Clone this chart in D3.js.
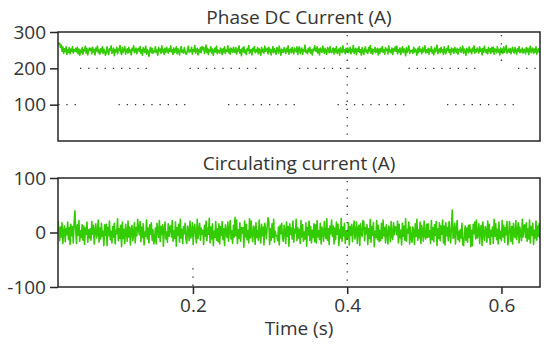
<!DOCTYPE html>
<html>
<head>
<meta charset="utf-8">
<script src="https://cdn.jsdelivr.net/npm/d3@7.9.0/dist/d3.min.js"></script>
<style>
  body { margin: 0; background: #fff; }
  svg { display: block; font-family: 'Open Sans', sans-serif; }
</style>
</head>
<body>
<div id="chart"></div>
<script>
// time window of the record (s)
const tStart = 0.025;
const tEnd = 0.65;
const xTicks = [0.2, 0.4, 0.6];
const dcTicks = [100, 200, 300];
const circTicks = [-100, 0, 100];

// Phase DC current samples (A), evenly spaced over the window
const dcCurrent = [
  272,266,269,258,264,247,259,241,254,246,259,238,251,244,257,240,253,247,260,242,
  252,247,255,245,258,240,253,236,250,244,257,239,252,248,261,242,255,237,249,256,
  249,255,240,258,245,252,237,256,248,261,243,250,239,254,246,259,241,253,247,236,
  243,259,246,238,254,250,262,241,247,256,235,251,245,258,240,253,249,263,244,238,
  257,244,251,260,239,248,254,242,258,245,250,237,255,249,262,243,247,256,240,252,
  255,247,260,242,251,236,257,249,244,261,239,252,246,233,250,258,243,255,241,248,
  246,259,243,250,236,257,248,253,241,262,245,251,238,255,244,258,249,242,254,247,
  262,245,251,238,256,243,249,259,240,254,247,237,253,260,244,250,242,257,246,239,
  240,253,261,244,250,246,258,239,252,247,263,242,249,255,237,251,245,257,243,260,
  252,258,241,249,264,243,255,238,251,247,259,242,253,236,248,256,245,261,240,250,
  248,242,256,251,238,254,245,259,241,250,247,262,243,253,239,256,249,244,258,246,
  244,257,239,253,248,262,242,251,235,256,246,259,243,250,238,254,249,263,241,247,
  252,237,255,248,260,243,251,246,257,240,254,249,236,258,245,252,242,261,247,250,
  255,240,258,245,252,237,249,260,243,254,246,239,257,251,242,261,248,236,253,245,
  244,257,249,241,255,246,262,239,251,253,243,258,247,240,256,250,245,259,238,254,
  259,241,250,256,238,252,247,264,244,249,240,255,246,258,242,251,237,253,248,262,
  251,246,259,242,253,237,256,248,244,261,250,241,255,247,239,257,252,243,260,245,
  243,250,256,239,254,245,260,241,248,253,236,257,249,243,262,246,251,240,255,247,
  256,243,250,258,240,252,246,263,241,249,255,238,253,247,259,244,251,236,257,248,
  238,252,259,244,250,241,257,248,263,242,254,239,251,246,258,243,249,255,237,253,
  242,255,247,260,244,251,239,257,249,253,240,262,246,250,243,256,238,254,248,259,
  247,261,240,252,245,256,238,250,259,243,254,248,235,257,244,251,262,241,249,246,
  250,241,258,245,253,248,236,255,243,260,247,252,240,257,245,249,262,242,251,244,
  255,239,253,247,260,242,250,237,256,245,252,264,240,248,254,243,258,246,251,238,
  259,247,240,254,249,262,244,251,238,256,246,253,241,258,250,243,255,239,252,248,
  257,244,249,261,241,253,247,236,255,250,243,259,245,252,240,256,248,262,242,251,
  245,256,250,242,259,247,253,237,255,244,261,249,243,252,240,257,246,254,241,258,
  246,258,239,254,249,243,260,245,251,237,256,248,253,241,259,244,250,263,242,247,
  253,244,255,240,250,258,246,242,257,249,239,254,247,260,243,251,245,256,242,250,
  252,240,257,246,255,238,251,261,243,249,256,241,253,245,259,239,250,254,244,248
];

// Circulating current samples (A)
const circCurrent = [
  22,5,-15,10,-8,18,-20,3,12,-17,7,-4,19,-13,9,-22,15,-6,11,-19,
  18,40,6,-20,14,-5,22,-16,3,-9,14,-14,12,-22,8,-3,19,-18,5,-10,
  7,-14,20,-3,13,-21,4,16,-10,-2,23,-18,8,-12,17,-7,2,-24,14,-5,
  15,-24,9,-6,21,-13,2,-19,11,-8,17,-21,4,-2,25,-15,7,-11,13,-26,
  19,-11,6,-20,15,2,-16,21,-8,10,-23,5,13,-15,-1,18,-19,9,-6,24,
  6,-4,20,-17,10,-9,16,-23,1,-7,23,-12,8,-19,14,-3,18,-14,5,-21,
  -13,8,-21,17,3,-9,22,-17,11,-4,14,-25,6,19,-12,1,-18,16,-7,10,
  12,-8,22,-16,3,-11,19,-25,9,-5,15,-18,24,-10,6,-20,11,-2,17,-13,
  -20,12,5,-15,21,-10,-2,18,-22,9,15,-6,-19,24,-11,4,17,-14,8,-3,
  4,-22,13,-7,21,-15,8,-3,26,-19,10,-12,16,-24,2,-9,20,-14,7,-17,
  16,-21,11,-5,20,-13,7,-24,14,1,-9,19,-16,6,22,-12,3,-20,13,-8,
  28,-6,23,-20,5,-11,18,-16,9,-1,9,-27,21,-8,15,-13,3,-19,25,-10,
  21,-4,-17,12,8,-22,18,-9,4,-14,23,-2,-19,15,-6,10,-23,17,5,-11,
  11,27,19,-22,7,-14,16,-9,24,-18,2,-6,-6,-15,10,-23,13,-2,17,-11,
  -16,13,2,-20,19,-7,11,-25,16,-3,8,-12,21,-18,6,-1,24,-15,9,-10,
  6,-20,22,-8,14,-16,1,-12,18,-25,9,-5,21,-14,11,-19,4,-9,16,-17,
  14,-19,22,-8,3,-13,17,-21,10,5,-16,20,-4,-11,25,-14,7,-22,12,-2,
  23,-7,12,-21,8,-13,19,-3,15,-24,5,-10,26,-16,10,-6,17,-20,3,-12,
  -9,18,-23,11,-5,15,-17,6,21,-12,-1,19,-20,8,13,-24,16,-3,-7,22,
  20,-15,9,-2,14,-22,7,-11,24,-18,11,-5,18,-26,2,-9,22,-13,13,-17,
  4,-15,17,-11,23,-6,9,-19,14,-2,-21,12,7,-17,20,-8,-13,18,-4,11,
  8,-4,21,-19,15,-10,4,-23,17,-7,12,-14,25,-16,6,-1,19,-21,10,-12,
  -18,10,3,-22,16,-7,24,-14,5,-10,19,-20,13,1,-16,21,-5,-12,15,-9,
  16,-8,3,-20,22,-13,9,-17,14,-5,20,-24,7,-11,18,-15,12,-3,23,-19,
  12,-23,18,-6,9,-15,20,-1,-19,14,41,-11,-8,17,-21,6,22,-13,2,-17,
  5,-10,17,-22,-24,-6,12,-14,8,-18,13,-9,14,-26,4,-24,15,-2,19,-12,
  23,-10,-4,16,-20,8,13,-24,19,-3,-14,11,6,-18,21,-9,15,-22,4,-7,
  10,-20,24,-7,16,-13,6,-21,19,-11,2,-15,22,-8,13,-18,9,-4,20,-23,
  -12,20,7,-16,11,-21,17,-5,-9,22,-13,3,18,-19,10,-2,-15,24,-8,13,
  14,-9,18,-16,7,-12,23,-19,11,-5,17,-22,4,-10,21,-14,12,-7,16,-11
];

const width = 550;
const height = 346;
const plotLeft = 58;
const plotRight = 540;
const green = '#33cc00';
const ink = '#262626';
const fontSize = '19px';

const svg = d3.select('#chart')
  .append('svg')
  .attr('width', width)
  .attr('height', height);

const xScale = d3.scaleLinear()
  .domain([tStart, tEnd])
  .range([plotLeft, plotRight]);

// sample i of n sits on an even grid across the window
const sampleTime = (i, n) => tStart + (tEnd - tStart) * i / (n - 1);

// dotted runs: nDots dots, then a longer gap, repeated every `period` px
function dotRuns(nDots, spacing, period) {
  const a = [];
  for (let i = 0; i < nDots - 1; i++) a.push(1.3, spacing - 1.3);
  a.push(1.3, period - (nDots - 1) * spacing - 1.3);
  return a.join(',');
}

const panels = [
  {
    id: 'dc', title: 'Phase DC Current (A)', values: dcCurrent,
    domain: [0, 300], ticks: dcTicks, top: 32, bottom: 141,
    hGrid: [{ v: 200, offset: 87.5 }, { v: 100, offset: 49 }],
    vGrid: [{ v: 0.4, from: 0, to: 1 }, { v: 0.6, from: 0, to: 0.3 }],
    xAxis: false,
  },
  {
    id: 'circ', title: 'Circulating current (A)', values: circCurrent,
    domain: [-100, 100], ticks: circTicks, top: 178, bottom: 287,
    hGrid: [],
    vGrid: [{ v: 0.2, from: 0.8, to: 1 }, { v: 0.4, from: 0, to: 1 }],
    xAxis: true,
  },
];

function styleText(sel) {
  sel.attr('fill', '#333')
    .style('font-size', fontSize)
    .style('font-family', "'Open Sans', sans-serif");
}

function renderPanel(p) {
  const yScale = d3.scaleLinear()
    .domain(p.domain)
    .range([p.bottom, p.top]);

  const g = svg.append('g').attr('class', 'panel-' + p.id);

  g.append('clipPath')
    .attr('id', 'clip-' + p.id)
    .append('rect')
    .attr('x', plotLeft)
    .attr('y', p.top)
    .attr('width', plotRight - plotLeft)
    .attr('height', p.bottom - p.top);

  // the signal
  const n = p.values.length;
  const line = d3.line()
    .x((d, i) => xScale(sampleTime(i, n)))
    .y((d) => yScale(d));

  g.append('path')
    .datum(p.values)
    .attr('clip-path', `url(#clip-${p.id})`)
    .attr('d', line)
    .attr('fill', 'none')
    .attr('stroke', green)
    .attr('stroke-width', 1.6)
    .attr('stroke-linejoin', 'round');

  // dotted grid (drawn over the trace, like the original)
  const grid = g.append('g').attr('class', 'grid')
    .attr('stroke', '#333')
    .attr('stroke-width', 1.3);

  grid.selectAll('line.h')
    .data(p.hGrid)
    .join('line')
    .attr('class', 'h')
    .attr('x1', plotLeft)
    .attr('x2', plotRight)
    .attr('y1', (d) => yScale(d.v))
    .attr('y2', (d) => yScale(d.v))
    .attr('stroke-dasharray', dotRuns(9, 8.2, 109.5))
    .attr('stroke-dashoffset', (d) => d.offset);

  const span = p.bottom - p.top;
  grid.selectAll('line.v')
    .data(p.vGrid)
    .join('line')
    .attr('class', 'v')
    .attr('x1', (d) => xScale(d.v))
    .attr('x2', (d) => xScale(d.v))
    .attr('y1', (d) => p.top + 3 + d.from * span)
    .attr('y2', (d) => p.top + d.to * span)
    .attr('stroke-dasharray', '1.3,6.9');

  // frame
  g.append('rect')
    .attr('x', plotLeft)
    .attr('y', p.top)
    .attr('width', plotRight - plotLeft)
    .attr('height', span)
    .attr('fill', 'none')
    .attr('stroke', ink)
    .attr('stroke-width', 1.5);

  // y axis
  const yAxis = g.append('g')
    .attr('transform', `translate(${plotLeft},0)`)
    .call(d3.axisLeft(yScale).tickValues(p.ticks).tickSize(8).tickPadding(4)
      .tickFormat((d) => String(d)));
  yAxis.select('.domain').remove();
  yAxis.selectAll('line').attr('stroke', ink).attr('stroke-width', 1.5);
  yAxis.selectAll('text').call(styleText);

  if (p.xAxis) {
    const xAxis = g.append('g')
      .attr('transform', `translate(0,${p.bottom})`)
      .call(d3.axisBottom(xScale).tickValues(xTicks).tickSize(7).tickPadding(5)
        .tickFormat(d3.format('.1f')));
    xAxis.select('.domain').remove();
    xAxis.selectAll('line').attr('stroke', ink).attr('stroke-width', 1.5);
    xAxis.selectAll('text').call(styleText);
  }

  // title
  g.append('text')
    .attr('x', (plotLeft + plotRight) / 2)
    .attr('y', p.top - 8)
    .attr('text-anchor', 'middle')
    .call(styleText)
    .text(p.title);
}

panels.forEach(renderPanel);

svg.append('text')
  .attr('x', (plotLeft + plotRight) / 2)
  .attr('y', 335)
  .attr('text-anchor', 'middle')
  .call(styleText)
  .text('Time (s)');
</script>
</body>
</html>
